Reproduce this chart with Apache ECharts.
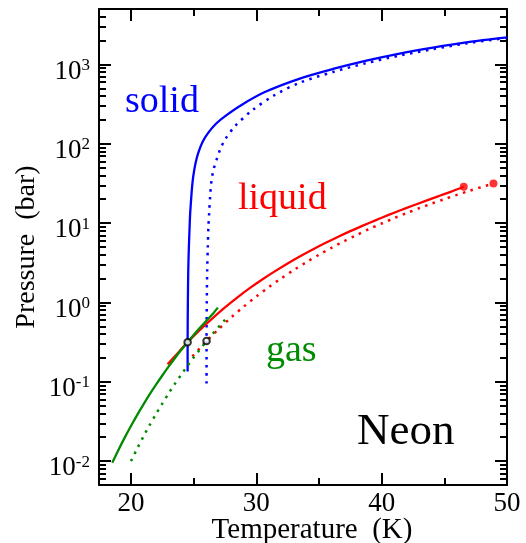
<!DOCTYPE html>
<html>
<head>
<meta charset="utf-8">
<script src="https://cdn.jsdelivr.net/npm/echarts@6/dist/echarts.min.js"></script>
<style>
  html, body { margin: 0; padding: 0; background: #fff; }
  #chart { width: 526px; height: 543px; }
</style>
</head>
<body>
<div id="chart"></div>
<script>
// Phase diagram of neon: melting, vapour-pressure and sublimation curves.
// Solid lines and dotted lines are two sets of the same three curves.

const xMajorTicks = [20, 30, 40, 50];
const xMinorTicks = [25, 35, 45];
const yExponents = [-2, -1, 0, 1, 2, 3];
const yMinorMantissas = [2, 3, 4, 5, 6, 7, 8, 9];

// melting curve (solid line), T in K, P in bar
const meltT = [24.52, 24.52, 24.54, 24.57, 24.62, 24.68, 24.72, 24.80, 24.88, 24.97, 25.15, 25.37, 25.72, 26.16, 26.8, 27.49, 28.82, 30.68, 33.47, 36.12, 38.78, 41.43, 44.09, 46.75, 50.0];
const meltP = [0.135, 0.32, 1.0, 2.5, 5.0, 9.0, 13, 20, 29, 39, 57, 77, 106, 137, 180, 222, 309, 449, 664, 877, 1117, 1371, 1633, 1901, 2193];

// melting curve (dotted line)
const meltDotT = [26.03, 26.03, 26.05, 26.08, 26.13, 26.18, 26.24, 26.32, 26.43, 26.6, 26.83, 27.12, 27.49, 28.29, 29.62, 31.47, 33.47, 36.12, 38.78, 41.43, 44.09, 46.75, 50.0];
const meltDotP = [0.095, 0.33, 1.0, 2.5, 5.0, 9.0, 13.5, 22, 35, 48, 63, 85, 112, 166, 260, 412, 589, 804, 1040, 1294, 1560, 1841, 2163];

// liquid-vapour curve (solid line)
const vapT = [22.92, 23.5, 24.52, 25.5, 26.5, 27.5, 28.5, 29.5, 30.5, 31.5, 32.5, 33.5, 34.5, 35.5, 36.5, 37.5, 38.5, 39.5, 40.5, 41.5, 42.5, 43.5, 44.5, 45.5, 46.55];
const vapP = [0.166, 0.209, 0.316, 0.452, 0.631, 0.867, 1.161, 1.524, 1.963, 2.483, 3.105, 3.828, 4.656, 5.61, 6.699, 7.925, 9.29, 10.84, 12.59, 14.52, 16.67, 19.05, 21.78, 24.77, 28.71];

// liquid-vapour curve (dotted line)
const vapDotT = [24.9, 25.5, 26.03, 27.0, 28.0, 29.0, 30.0, 31.0, 32.0, 33.0, 34.0, 35.0, 36.0, 37.0, 38.0, 39.0, 40.0, 41.0, 42.0, 43.0, 44.0, 45.0, 46.0, 47.0, 48.0, 48.92];
const vapDotP = [0.209, 0.266, 0.326, 0.462, 0.649, 0.887, 1.189, 1.56, 2.018, 2.57, 3.221, 3.99, 4.887, 5.916, 7.079, 8.414, 9.886, 11.56, 13.4, 15.42, 17.66, 20.04, 22.7, 25.53, 28.58, 31.55];

// sublimation curve (solid line)
const sublT = [18.51, 19.0, 19.5, 20.0, 20.5, 21.0, 21.5, 22.0, 22.5, 23.0, 23.5, 24.0, 24.52, 25.0, 25.5, 26.0, 26.5, 26.93];
const sublP = [0.00957, 0.01384, 0.01977, 0.0277, 0.0383, 0.052, 0.0697, 0.092, 0.120, 0.155, 0.198, 0.251, 0.316, 0.389, 0.479, 0.583, 0.708, 0.861];

// sublimation curve (dotted line)
const sublDotT = [20.0, 20.5, 21.0, 21.5, 22.0, 22.5, 23.0, 23.5, 24.0, 24.5, 25.0, 25.5, 26.03, 26.5, 27.0, 27.5, 27.81];
const sublDotP = [0.010, 0.0144, 0.0205, 0.0286, 0.0393, 0.0532, 0.0711, 0.094, 0.1225, 0.158, 0.202, 0.256, 0.326, 0.400, 0.493, 0.604, 0.682];

// triple points and critical points
const tripleT = [24.52, 26.03];
const tripleP = [0.316, 0.326];
const criticalT = [46.55, 48.92];
const criticalP = [28.71, 31.55];

const xMin = 17.45, xMax = 50;
const pMin = 0.005, pMax = 5000;

const FONT = '"Liberation Serif", "Times New Roman", serif';
const BLUE = '#0000ff', RED = '#ff0000', GREEN = '#008b00';
const DOTS = [2.5, 5.5];

const lg = Math.log10;
const yMin = lg(pMin), yMax = lg(pMax);
const toPoints = (T, P) => T.map((t, i) => [t, lg(P[i])]);

const yMajorTicks = yExponents.slice();
const yMinorTicks = [];
for (let e = -3; e <= 3; e++) {
  yMinorMantissas.forEach(m => {
    const v = e + lg(m);
    if (v > yMin && v < yMax) yMinorTicks.push(v);
  });
}

function xAxisDef(position, ticks, tickLen, main) {
  return {
    type: 'value', position, min: xMin, max: xMax,
    axisLine: { show: main, onZero: false, lineStyle: { color: '#000', width: 2 } },
    axisTick: { show: true, inside: true, length: tickLen, customValues: ticks,
                lineStyle: { color: '#000', width: 2 } },
    axisLabel: position === 'bottom' && main ? {
      show: true, customValues: ticks, margin: 5, color: '#000',
      fontFamily: FONT, fontSize: 27
    } : { show: false },
    splitLine: { show: false },
    name: position === 'bottom' && main ? 'Temperature  (K)' : '',
    nameLocation: 'middle', nameGap: 31, nameMoveOverlap: false,
    nameTextStyle: { fontFamily: FONT, fontSize: 29, color: '#000', padding: [0, 0, 0, 18] }
  };
}

function yAxisDef(position, ticks, tickLen, main) {
  return {
    type: 'value', position, min: yMin, max: yMax,
    axisLine: { show: main, onZero: false, lineStyle: { color: '#000', width: 2 } },
    axisTick: { show: true, inside: true, length: tickLen, customValues: ticks,
                lineStyle: { color: '#000', width: 2 } },
    axisLabel: position === 'left' && main ? {
      show: true, customValues: ticks, margin: 9, color: '#000',
      formatter: v => '{b|10}{s|' + (v < 0 ? '-' : '') + Math.abs(Math.round(v)) + '}',
      rich: {
        b: { fontFamily: FONT, fontSize: 27, color: '#000', padding: [14, 0, 0, 0] },
        s: { fontFamily: FONT, fontSize: 17, color: '#000', verticalAlign: 'top', padding: [13, 0, 0, 0] }
      }
    } : { show: false },
    splitLine: { show: false },
    name: position === 'left' && main ? 'Pressure  (bar)' : '',
    nameLocation: 'middle', nameGap: 58, nameRotate: 90, nameMoveOverlap: false,
    nameTextStyle: { fontFamily: FONT, fontSize: 28, color: '#000' }
  };
}

function curve(T, P, color, dotted, z) {
  return {
    type: 'line', data: toPoints(T, P), xAxisIndex: 0, yAxisIndex: 0,
    showSymbol: false, symbol: 'none', smooth: 0.3, silent: true, z,
    lineStyle: { color, width: dotted ? 2.5 : 2.3, type: dotted ? DOTS : 'solid', cap: 'butt' }
  };
}

const chart = echarts.init(document.getElementById('chart'), null, { renderer: 'canvas' });
chart.setOption({
  animation: false,
  backgroundColor: '#fff',
  grid: { left: 99, right: 19, top: 9, bottom: 58, containLabel: false, outerBoundsMode: 'none' },
  xAxis: [
    xAxisDef('bottom', xMajorTicks, 12, true),
    xAxisDef('bottom', xMinorTicks, 7, false),
    xAxisDef('top', xMajorTicks, 12, true),
    xAxisDef('top', xMinorTicks, 7, false)
  ],
  yAxis: [
    yAxisDef('left', yMajorTicks, 12, true),
    yAxisDef('left', yMinorTicks, 7, false),
    yAxisDef('right', yMajorTicks, 12, true),
    yAxisDef('right', yMinorTicks, 7, false)
  ],
  series: [
    curve(meltT, meltP, BLUE, false, 2),
    curve(meltDotT, meltDotP, BLUE, true, 2),
    curve(vapT, vapP, RED, false, 3),
    curve(vapDotT, vapDotP, RED, true, 3),
    curve(sublT, sublP, GREEN, false, 4),
    curve(sublDotT, sublDotP, GREEN, true, 4),
    {
      type: 'scatter', data: toPoints(criticalT, criticalP), symbol: 'circle', symbolSize: 8,
      itemStyle: { color: RED }, silent: true, z: 5
    },
    {
      type: 'scatter', data: toPoints(tripleT, tripleP), symbol: 'circle', symbolSize: 6.5,
      itemStyle: { color: '#fff', borderColor: '#000', borderWidth: 2 }, silent: true, z: 6
    }
  ],
  graphic: [
    { type: 'text', left: 125, top: 83, style: { text: 'solid', fill: BLUE, font: '38px ' + FONT } },
    { type: 'text', left: 238, top: 180, style: { text: 'liquid', fill: RED, font: '38px ' + FONT } },
    { type: 'text', left: 266, top: 332, style: { text: 'gas', fill: GREEN, font: '38px ' + FONT } },
    { type: 'text', left: 357, top: 410, style: { text: 'Neon', fill: '#000', font: '45px ' + FONT } }
  ]
});
</script>
</body>
</html>
